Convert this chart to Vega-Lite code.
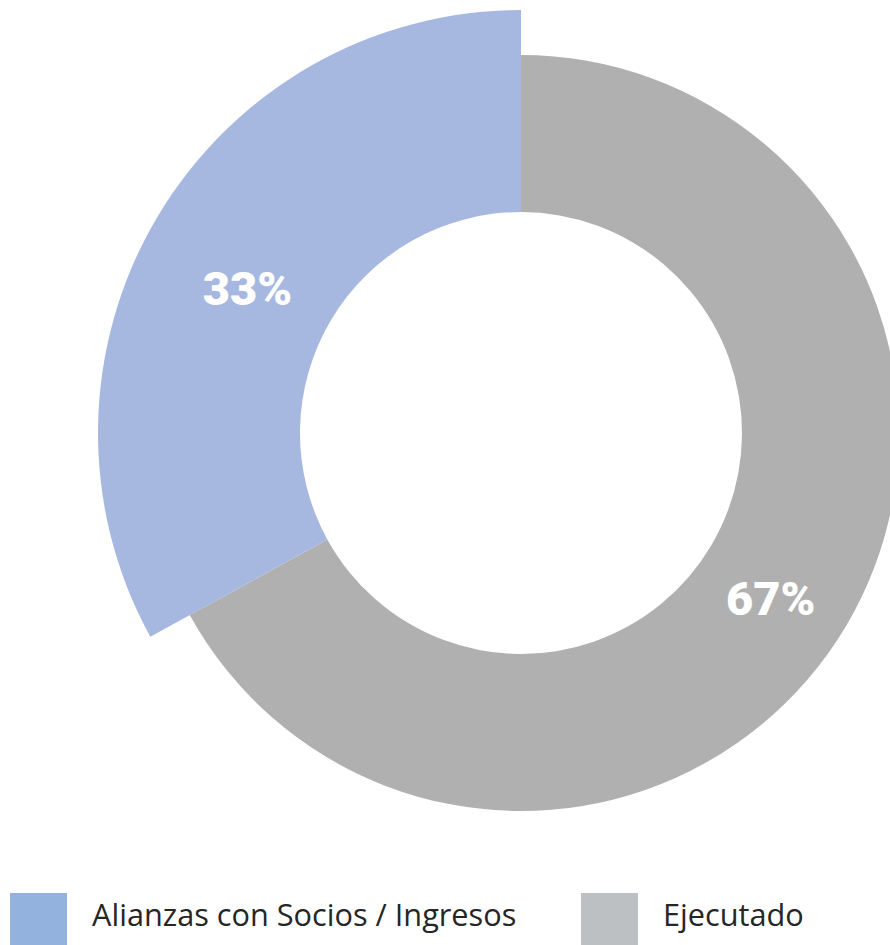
{
  "$schema": "https://vega.github.io/schema/vega-lite/v6.json",
  "width": 738,
  "height": 866,
  "autosize": {"type": "none"},
  "padding": {"left": 152, "top": 0, "right": 0, "bottom": 79},
  "background": "white",
  "config": {"view": {"stroke": null}},
  "data": {
    "values": [
      {"category": "Alianzas con Socios / Ingresos", "value": 33, "label": "33%"},
      {"category": "Ejecutado", "value": 67, "label": "67%"}
    ]
  },
  "resolve": {"scale": {"color": "independent"}, "legend": {"color": "independent"}},
  "layer": [
    {
      "layer": [
        {
          "transform": [
            {"stack": "value", "groupby": [], "sort": [{"field": "category", "order": "descending"}], "as": ["start", "end"]},
            {"filter": "datum.category === 'Ejecutado'"}
          ],
          "mark": {"type": "arc", "innerRadius": 221, "radius": 378, "strokeWidth": 0},
          "encoding": {
            "theta": {"field": "start", "type": "quantitative", "scale": {"domain": [0, 100]}},
            "theta2": {"field": "end"},
            "color": {
              "field": "category",
              "type": "nominal",
              "scale": {"domain": ["Alianzas con Socios / Ingresos", "Ejecutado"], "range": ["#a7b8e0", "#b0b0b0"]},
              "legend": null
            }
          }
        },
        {
          "transform": [
            {"stack": "value", "groupby": [], "sort": [{"field": "category", "order": "descending"}], "as": ["start", "end"]},
            {"filter": "datum.category !== 'Ejecutado'"}
          ],
          "mark": {"type": "arc", "innerRadius": 221, "radius": 423, "strokeWidth": 0},
          "encoding": {
            "theta": {"field": "start", "type": "quantitative"},
            "theta2": {"field": "end"},
            "color": {"field": "category", "type": "nominal", "legend": null}
          }
        },
        {
          "mark": {"type": "text", "radius": 304, "dx": -12, "dy": 13, "font": "Roboto", "fontWeight": 900, "fontSize": 47, "fill": "white"},
          "encoding": {
            "theta": {"field": "value", "type": "quantitative", "stack": true},
            "order": {"field": "category", "sort": "descending"},
            "text": {"field": "label"}
          }
        }
      ]
    },
    {
      "mark": {"type": "square", "opacity": 0, "size": 1, "filled": true},
      "encoding": {
        "color": {
          "field": "category",
          "type": "nominal",
          "scale": {"domain": ["Alianzas con Socios / Ingresos", "Ejecutado"], "range": ["#93b3de", "#bcc0c2"]},
          "legend": {
            "title": null,
            "orient": "none",
            "legendX": -142,
            "legendY": 893,
            "direction": "horizontal",
            "columns": 2,
            "gridAlign": "all",
            "columnPadding": 64,
            "padding": 0,
            "symbolType": "square",
            "symbolSize": 3249,
            "symbolStrokeWidth": 0,
            "symbolOpacity": 1,
            "labelFont": "Open Sans",
            "labelFontSize": 30.7,
            "labelColor": "#262626",
            "labelOffset": 25,
            "labelLimit": 700,
            "encode": {"labels": {"update": {"dy": {"value": -5}}}}
          }
        }
      }
    }
  ]
}
